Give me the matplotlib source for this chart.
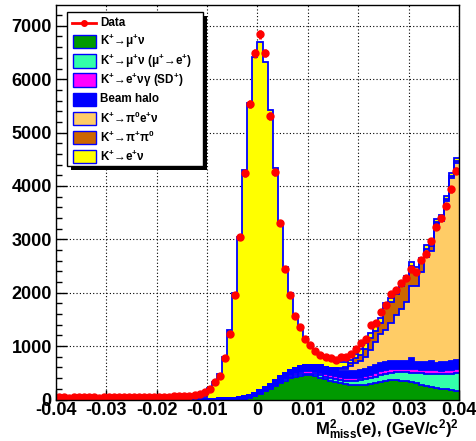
import numpy as np
import matplotlib
matplotlib.use("Agg")
import matplotlib.pyplot as plt
from matplotlib.patches import Rectangle
from matplotlib.lines import Line2D

plt.rcParams['font.family'] = ['Liberation Sans', 'DejaVu Sans']
plt.rcParams['font.weight'] = 'bold'
plt.rcParams['mathtext.fontset'] = 'custom'
plt.rcParams['mathtext.rm'] = 'Liberation Sans:bold'
plt.rcParams['mathtext.bf'] = 'Liberation Sans:bold'
plt.rcParams['mathtext.it'] = 'Liberation Sans:bold'

# ---- data (80 bins from -0.04 to 0.04) ----
x_min, x_max, n_bins = -0.04, 0.04, 80

k_munu = [0, 0, 0, 0, 0, 0, 0, 0, 0, 0, 0, 0, 0, 0, 0, 0, 0, 0, 0, 0,
          0, 0, 0, 0, 0, 0, 0, 0, 0, 0, 0, 0, 0, 0, 0, 0,
          5, 15, 35, 65, 105, 150, 200, 255, 310, 355, 395, 425, 445, 455, 450, 435,
          410, 380, 350, 325, 300, 285, 272, 268, 270, 280, 295, 315, 335, 352, 362,
          362, 352, 338, 320, 300, 280, 258, 238, 220, 203, 188, 175, 162]
k_munu_e = [0, 0, 0, 0, 0, 0, 0, 0, 0, 0, 0, 0, 0, 0, 0, 0, 0, 0, 0, 0,
            0, 0, 0, 0, 0, 0, 0, 0, 0, 0, 0, 0, 0, 0, 0, 0, 0, 0,
            3, 5, 8, 10, 12, 15, 18, 20, 22, 25, 28, 30, 33, 36, 40, 44, 48, 53, 58,
            64, 70, 78, 86, 95, 104, 113, 122, 130, 138, 146, 156, 168, 182, 196, 210,
            225, 240, 256, 272, 290, 310, 335]
k_envg = [0, 0, 0, 0, 0, 0, 0, 0, 0, 0, 0, 0, 0, 0, 0, 0, 0, 0, 0, 0,
          0, 0, 0, 0, 0, 0, 0, 0, 0, 0, 0, 0, 0, 0, 0, 0, 0, 0, 0, 0,
          5, 10, 15, 20, 25, 30, 35, 40, 45, 48, 50, 52, 55, 56, 58, 60, 58, 55, 55,
          55, 55, 60, 62, 65, 68, 70, 70, 72, 70, 68, 66, 70, 68, 66, 75, 72, 68, 70,
          72, 70]
beam_halo = [12, 14, 11, 13, 12, 15, 12, 13, 11, 14, 12, 13, 15, 12, 14, 13, 12, 15,
             13, 14, 12, 15, 13, 14, 15, 13, 14, 15, 14, 15,
             15, 18, 22, 26, 30, 35, 40, 45, 50, 55, 60, 65, 72, 80, 88, 95, 100, 105,
             110, 112, 115, 118, 120, 120, 122, 125, 125, 128, 130, 132, 135, 140, 142,
             145, 150, 150, 150, 150, 152, 150, 215, 140, 145, 150, 160, 140, 165, 155,
             170, 165]
k_pi0enu = [0, 0, 0, 0, 0, 0, 0, 0, 0, 0, 0, 0, 0, 0, 0, 0, 0, 0, 0, 0,
            0, 0, 0, 0, 0, 0, 0, 0, 0, 0, 0, 0, 0, 0, 0, 0, 0, 0, 0, 0,
            0, 0, 0, 0, 0, 0, 0, 0, 0, 0,
            5, 8, 12, 16, 20, 25, 35, 45, 100, 147, 184, 225, 327, 442, 545, 598, 710,
            860, 960, 1096, 1337, 1424, 1677, 1977, 2075, 2592, 2639, 3011, 3431, 3696]
k_pipi0 = [0, 0, 0, 0, 0, 0, 0, 0, 0, 0, 0, 0, 0, 0, 0, 0, 0, 0, 0, 0,
           0, 0, 0, 0, 0, 0, 0, 0, 0, 0, 0, 0, 0, 0, 0, 0, 0, 0, 0, 0,
           0, 0, 0, 0, 0, 0, 0, 0, 0, 0, 0, 0, 0, 0, 0, 0,
           10, 30, 60, 90, 110, 150, 220, 200, 220, 415, 390, 390, 435, 430, 390, 282,
           214, 150, 80, 50, 45, 40, 38, 35]
k_enu = [0, 0, 0, 0, 0, 0, 0, 0, 0, 0, 0, 0, 0, 0, 0, 0, 0, 0, 0, 0,
         0, 0, 0, 0, 0, 0, 0,
         5, 15, 40, 195, 302, 448, 774, 1280, 1965, 2995, 4240, 5462, 6285, 6522, 6095,
         5121, 3960, 2889, 1990, 1438, 985, 702, 485, 347, 256, 183, 154, 142, 127, 119,
         98, 53, 80, 110, 110, 100, 95, 90, 85, 80, 78, 75, 72, 70, 68, 66, 64, 62, 60,
         58, 56, 54, 52]
data = [38, 42, 35, 40, 45, 38, 42, 40, 36, 44, 40, 46, 42, 38, 45, 48, 42, 50, 46, 52,
        48, 55, 50, 58, 62, 65,
        70, 80, 105, 145, 205, 330, 440, 780, 1227, 1957, 3037, 4240, 5534, 6483, 6840,
        6488, 5312, 4260, 3300, 2440, 1957, 1557, 1363, 1130, 1020, 915, 825, 789, 770,
        742, 789, 789, 852, 955, 1051, 1126, 1390, 1437, 1631, 1775, 1975, 2050, 2175,
        2268, 2437, 2395, 2620, 2724, 2974, 3236, 3392, 3623, 3935, 4284]

components = [k_munu, k_munu_e, k_envg, beam_halo, k_pi0enu, k_pipi0, k_enu]
colors = ['#009a00', '#33ffaa', '#ff00ff', '#0000ff', '#ffcc66', '#cc6600', '#ffff00']
labels = ['K$^{+}$→μ$^{+}$ν',
          'K$^{+}$→μ$^{+}$ν (μ$^{+}$→e$^{+}$)',
          'K$^{+}$→e$^{+}$νγ (SD$^{+}$)',
          'Beam halo',
          'K$^{+}$→π$^{0}$e$^{+}$ν',
          'K$^{+}$→π$^{+}$π$^{0}$',
          'K$^{+}$→e$^{+}$ν']
xtick_vals = [-0.04, -0.03, -0.02, -0.01, 0, 0.01, 0.02, 0.03, 0.04]
xtick_labels = ['-0.04', '-0.03', '-0.02', '-0.01', '0', '0.01', '0.02', '0.03', '0.04']
ytick_vals = [0, 1000, 2000, 3000, 4000, 5000, 6000, 7000]

edges = np.linspace(x_min, x_max, n_bins + 1)
centers = 0.5 * (edges[:-1] + edges[1:])
cum = np.cumsum(np.array(components, dtype=float), axis=0)

fig = plt.figure(figsize=(4.76, 4.41), dpi=100)
ax = fig.add_axes([56 / 476, 1 - 399.5 / 441, 403 / 476, 394.5 / 441])
ax.set_xlim(x_min, x_max)
ax.set_ylim(0, 7390)

# stacked histogram, drawn ROOT style: largest cumulative first
for k in range(len(components) - 1, -1, -1):
    ax.stairs(cum[k], edges, baseline=0, fill=True, color=colors[k], zorder=2 + (7 - k) * 0.01)
for k in range(len(components) - 1, -1, -1):
    ax.stairs(cum[k], edges, baseline=None, fill=False, color='#0000ff', lw=1.3, zorder=3)

d = np.array(data, dtype=float)
ax.errorbar(centers, d, xerr=0.0005, yerr=np.sqrt(d), fmt='o', color='#ff0000',
            ms=5, elinewidth=2.0, capsize=0, zorder=5)

# axes styling
ax.set_xticks(xtick_vals)
ax.set_xticklabels(xtick_labels)
ax.set_yticks(ytick_vals)
ax.set_xticks(np.arange(-0.04, 0.0401, 0.002), minor=True)
ax.set_yticks(np.arange(0, 7390, 200), minor=True)
ax.tick_params(which='major', direction='in', length=8, width=1, labelsize=13, pad=3)
ax.tick_params(which='minor', direction='in', length=4, width=1)
ax.tick_params(axis='x', which='major', length=7, pad=1.5)
for lab in ax.get_xticklabels() + ax.get_yticklabels():
    lab.set_fontweight('bold')
ax.grid(True, which='major', linestyle=(0, (1, 2)), color='black', lw=0.8)
ax.set_axisbelow(True)
for s in ax.spines.values():
    s.set_linewidth(1.0)
    s.set_zorder(10)

fig.text(459 / 476, 1 - 435 / 441, 'M$^{2}_{miss}$(e), (GeV/c$^{2}$)$^{2}$',
         ha='right', va='baseline', fontsize=12, fontweight='bold')

# legend (ROOT style with black shadow)
def ax_x(px):
    return (px - 56) / 403

def ax_y(py):
    return (399.5 - py) / 394.5

T = ax.transAxes
ax.add_patch(Rectangle((ax_x(71), ax_y(170)), ax_x(207) - ax_x(71), ax_y(16) - ax_y(170),
                       transform=T, facecolor='black', edgecolor='none', zorder=20))
ax.add_patch(Rectangle((ax_x(67), ax_y(166)), ax_x(203) - ax_x(67), ax_y(12) - ax_y(166),
                       transform=T, facecolor='white', edgecolor='black', lw=1.0, zorder=21))
row_y = [22.7, 41.7, 61, 80, 99.3, 118.3, 137.7, 156.7]
ax.add_line(Line2D([ax_x(72), ax_x(96)], [ax_y(row_y[0])] * 2, transform=T, color='#ff0000',
                   lw=2, zorder=22))
ax.add_line(Line2D([ax_x(84)], [ax_y(row_y[0])], transform=T, color='#ff0000', marker='o',
                   ms=4, zorder=22))
ax.text(ax_x(100.5), ax_y(row_y[0]), 'Data', transform=T, va='center', ha='left',
        fontsize=8.4, fontweight='bold', zorder=23)
for j in range(7):
    yc = row_y[j + 1]
    ax.add_patch(Rectangle((ax_x(72.5), ax_y(yc + 6.5)), ax_x(96) - ax_x(72.5),
                           ax_y(yc - 6.5) - ax_y(yc + 6.5), transform=T,
                           facecolor=colors[j], edgecolor='#0000ff', lw=1.0, zorder=22))
    ax.text(ax_x(100.5), ax_y(yc), labels[j], transform=T, va='center', ha='left',
            fontsize=8.4, fontweight='bold', zorder=23)

fig.savefig('out.png', dpi=100)
